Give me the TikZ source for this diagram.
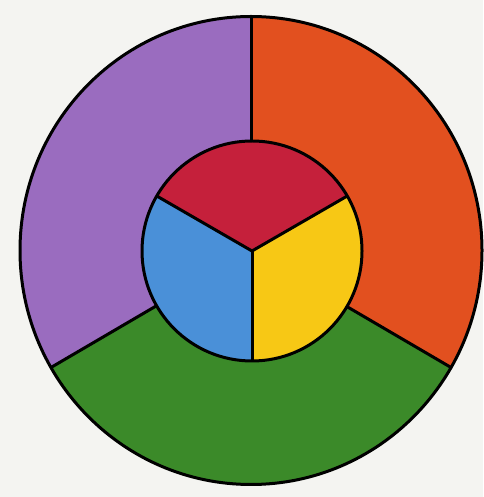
\documentclass[tikz,border=0pt]{standalone}
\definecolor{bg}{HTML}{F4F4F1}
\definecolor{cpurple}{HTML}{9A6CBF}
\definecolor{corange}{HTML}{E2501F}
\definecolor{cgreen}{HTML}{3B8A29}
\definecolor{cred}{HTML}{C5203B}
\definecolor{cblue}{HTML}{4A90D8}
\definecolor{cyellow}{HTML}{F7C815}
\tikzset{rim/.style={line width=3pt, draw=black, line join=round}}
\begin{document}
\begin{tikzpicture}[x=1pt,y=1pt]
\fill[bg] (0,0) rectangle (483,497);
\useasboundingbox (0,0) rectangle (483,497);
\coordinate (c) at (251,246.5);
\coordinate (ci) at (252,246);
% outer sectors
\fill[cpurple] (c) -- ++(90:231 and 234) arc[start angle=90,end angle=210,x radius=231,y radius=234] -- cycle;
\fill[cgreen] (c) -- ++(210:231 and 234) arc[start angle=210,end angle=330,x radius=231,y radius=234] -- cycle;
\fill[corange] (c) -- ++(330:231 and 234) arc[start angle=330,end angle=450,x radius=231,y radius=234] -- cycle;
\draw[rim] (c) ++(90:231 and 234) -- (c);
\draw[rim] (c) ++(210:231 and 234) -- (c);
\draw[rim] (c) ++(330:231 and 234) -- (c);
\draw[rim] (c) ellipse[x radius=231,y radius=234];
% inner sectors
\fill[cred] (ci) -- ++(30:110) arc[start angle=30,end angle=150,radius=110] -- cycle;
\fill[cblue] (ci) -- ++(150:110) arc[start angle=150,end angle=270,radius=110] -- cycle;
\fill[cyellow] (ci) -- ++(270:110) arc[start angle=270,end angle=390,radius=110] -- cycle;
\draw[rim] (ci) -- ++(30:110);
\draw[rim] (ci) -- ++(150:110);
\draw[rim] (ci) -- ++(270:110);
\draw[rim] (ci) circle[radius=110];
\end{tikzpicture}
\end{document}
